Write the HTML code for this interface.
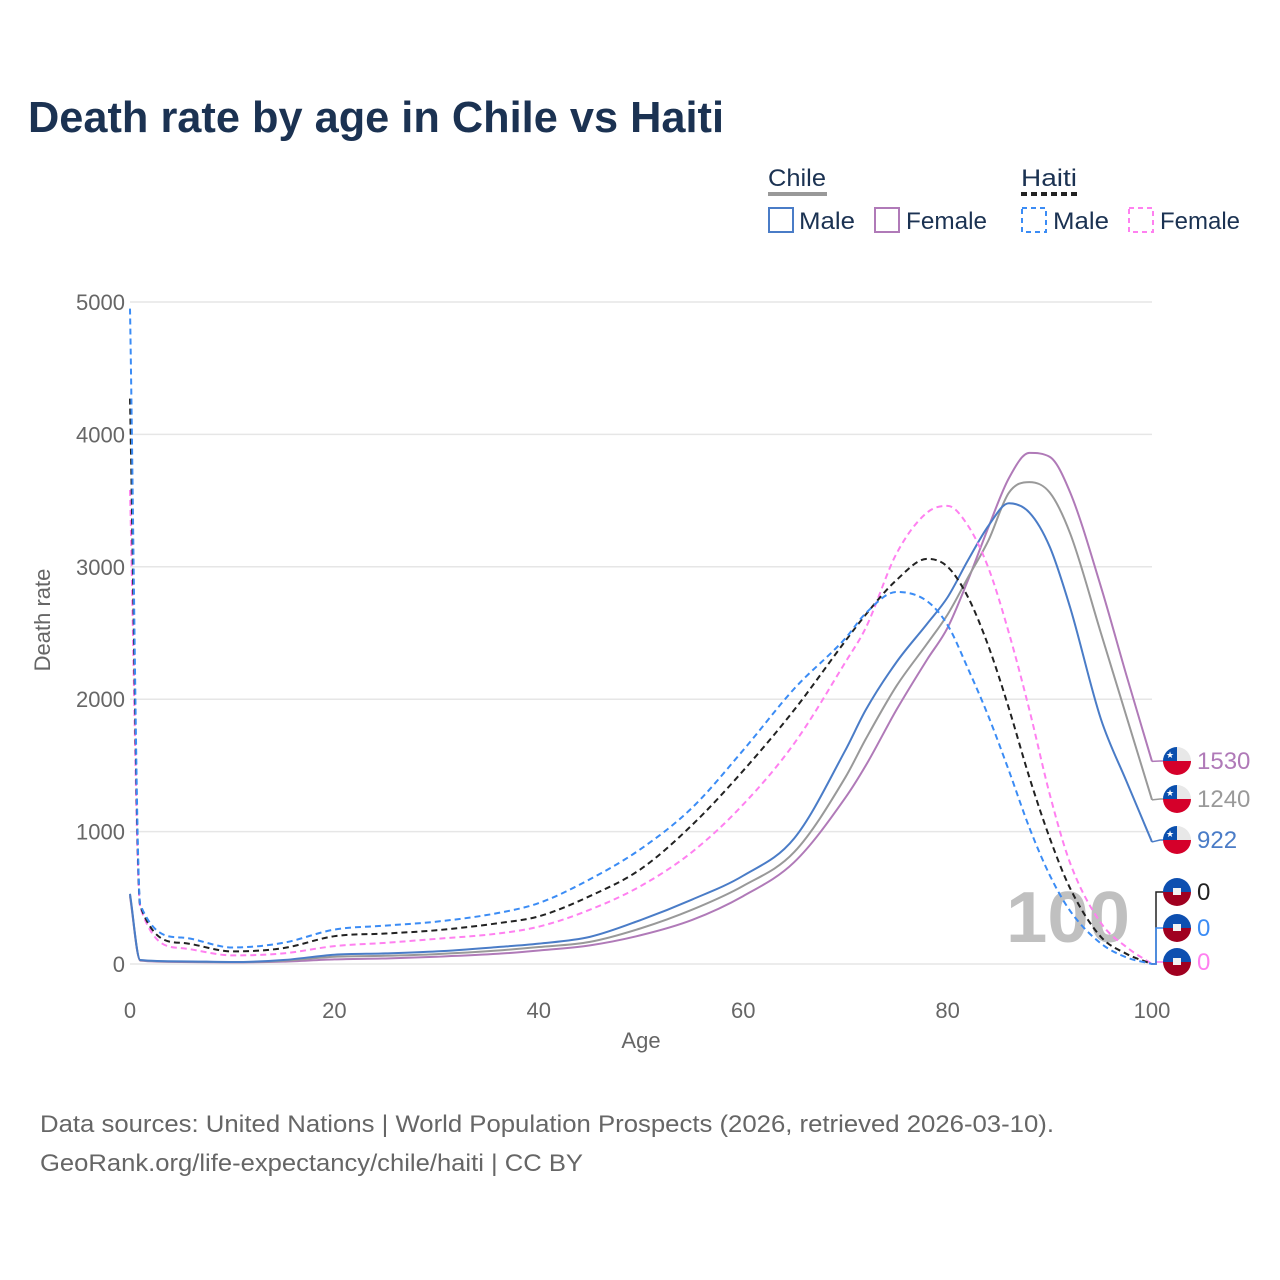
<!DOCTYPE html>
<html><head><meta charset="utf-8"><style>
html,body{margin:0;padding:0;background:#fff}
svg{display:block;font-family:"Liberation Sans",sans-serif}
</style></head><body>
<svg id="chart" width="1280" height="1280" viewBox="0 0 1280 1280">
<text x="28" y="132" font-size="44" font-weight="bold" fill="#1b3252" textLength="696" lengthAdjust="spacingAndGlyphs">Death rate by age in Chile vs Haiti</text>
<g font-size="24" fill="#1b3252">
<text x="768" y="186" textLength="58" lengthAdjust="spacingAndGlyphs">Chile</text>
<line x1="768" y1="194" x2="827" y2="194" stroke="#999" stroke-width="4"/>
<text x="1021" y="186" textLength="56" lengthAdjust="spacingAndGlyphs">Haiti</text>
<line x1="1021" y1="194" x2="1077" y2="194" stroke="#222" stroke-width="4" stroke-dasharray="6,4"/>
<g><rect x="769" y="208" width="24" height="24" fill="none" stroke="#4a7cc7" stroke-width="2"/><text x="799" y="229" textLength="56" lengthAdjust="spacingAndGlyphs">Male</text></g>
<g><rect x="875" y="208" width="24" height="24" fill="none" stroke="#b07ab8" stroke-width="2"/><text x="906" y="229" textLength="81" lengthAdjust="spacingAndGlyphs">Female</text></g>
<g><rect x="1022" y="208" width="24" height="24" fill="none" stroke="#3b8cf5" stroke-width="2" stroke-dasharray="5,4"/><text x="1053" y="229" textLength="56" lengthAdjust="spacingAndGlyphs">Male</text></g>
<g><rect x="1129" y="208" width="24" height="24" fill="none" stroke="#ff80f0" stroke-width="2" stroke-dasharray="5,4"/><text x="1160" y="229" textLength="80" lengthAdjust="spacingAndGlyphs">Female</text></g>
</g>
<g id="grid"></g>
<g id="yticks" font-size="22" fill="#666" text-anchor="end"></g>
<g id="xticks" font-size="22" fill="#666" text-anchor="middle"></g>
<text x="641" y="1048" font-size="22" fill="#666" text-anchor="middle">Age</text>
<text transform="translate(50,620) rotate(-90)" font-size="22" fill="#666" text-anchor="middle">Death rate</text>
<text x="1068" y="942" font-size="72" font-weight="bold" fill="#c0c0c0" text-anchor="middle" textLength="124" lengthAdjust="spacingAndGlyphs">100</text>
<g id="series"></g>
<g id="endlabels"></g>
<text x="40" y="1132" font-size="24" fill="#666" textLength="1014" lengthAdjust="spacingAndGlyphs">Data sources: United Nations | World Population Prospects (2026, retrieved 2026-03-10).</text>
<text x="40" y="1171" font-size="24" fill="#666" textLength="543" lengthAdjust="spacingAndGlyphs">GeoRank.org/life-expectancy/chile/haiti | CC BY</text>
</svg>
<script>
const ages = [0,1,5,10,15,20,25,30,36,40,45,50,55,60,65,70,72,75,78,80,82,84,86,88,90,92,95,97.5,100];
const haitiMale = [4950,450,200,125,160,260,290,320,385,460,640,870,1180,1615,2080,2460,2650,2810,2740,2560,2230,1870,1460,1030,670,400,155,50,0];
const haitiBoth = [4270,440,160,95,120,210,230,255,308,360,513,718,1050,1460,1920,2440,2640,2900,3060,3000,2770,2400,1930,1410,950,570,205,77,0];
const haitiFemale = [3580,430,120,65,80,135,160,190,230,282,410,590,846,1205,1667,2280,2540,3100,3410,3460,3310,2990,2500,1920,1280,760,310,128,0];
const chileMale = [530,30,20,15,30,70,80,95,128,154,205,333,487,667,950,1615,1920,2280,2570,2770,3050,3310,3480,3410,3150,2690,1850,1380,922];
const chileBoth = [520,28,18,14,25,55,62,75,102,128,167,270,410,590,846,1410,1700,2100,2420,2640,2920,3200,3560,3640,3560,3250,2500,1870,1240];
const chileFemale = [510,25,15,12,18,35,42,55,77,102,141,218,333,513,770,1256,1500,1920,2300,2540,2900,3300,3670,3860,3830,3560,2850,2180,1530];
const yTicks = [0,1000,2000,3000,4000,5000];
const xTicks = [0,20,40,60,80,100];
const endLabels = ["1530","1240","922","0","0","0"];

const NS="http://www.w3.org/2000/svg";
const X0=130,X1=1152,Y0=964,PX=0.1324;
const xs=a=>X0+(a-0)*(X1-X0)/100;
const ys=v=>Y0-v*PX;
function mk(t,attrs,parent){const e=document.createElementNS(NS,t);for(const k in attrs)e.setAttribute(k,attrs[k]);parent.appendChild(e);return e;}

const grid=document.getElementById('grid'),yt=document.getElementById('yticks'),xt=document.getElementById('xticks');
yTicks.forEach(v=>{
  const l=mk('line',{x1:X0,x2:X1,y1:ys(v),y2:ys(v),stroke:'#e6e6e6','stroke-width':1.5},grid);
  
  
  const t=mk('text',{x:125,y:ys(v)+8},yt);t.textContent=v;
  
  
});
xTicks.forEach(a=>{
  const t=mk('text',{x:xs(a),y:1018},xt);t.textContent=a;
  
  
});

function monotonePath(px,py){
  const n=px.length,d=[],m=[];
  for(let i=0;i<n-1;i++)d.push((py[i+1]-py[i])/(px[i+1]-px[i]));
  m[0]=d[0];m[n-1]=d[n-2];
  for(let i=1;i<n-1;i++){m[i]=(d[i-1]*d[i]<=0)?0:(d[i-1]+d[i])/2;}
  for(let i=0;i<n-1;i++){if(d[i]===0){m[i]=0;m[i+1]=0;continue;}const a=m[i]/d[i],b=m[i+1]/d[i],s=a*a+b*b;if(s>9){const t=3/Math.sqrt(s);m[i]=t*a*d[i];m[i+1]=t*b*d[i];}}
  let p='M'+px[0]+','+py[0];
  for(let i=0;i<n-1;i++){const h=(px[i+1]-px[i])/3;p+=' C'+(px[i]+h)+','+(py[i]+m[i]*h)+' '+(px[i+1]-h)+','+(py[i+1]-m[i+1]*h)+' '+px[i+1]+','+py[i+1];}
  return p;
}
const series=[
 {name:'chile-female',data:chileFemale,color:'#b07ab8',dash:null,ly:761,lab:0},
 {name:'chile-both',data:chileBoth,color:'#999999',dash:null,ly:799,lab:1},
 {name:'chile-male',data:chileMale,color:'#4a7cc7',dash:null,ly:840,lab:2},
 {name:'haiti-female',data:haitiFemale,color:'#ff80f0',dash:'6,4',ly:962,lab:5},
 {name:'haiti-both',data:haitiBoth,color:'#222222',dash:'6,4',ly:892,lab:3},
 {name:'haiti-male',data:haitiMale,color:'#3b8cf5',dash:'6,4',ly:928,lab:4}
];
const sg=document.getElementById('series');
series.forEach(s=>{
  const p=mk('path',{d:monotonePath(ages.map(xs),s.data.map(ys)),fill:'none',stroke:s.color,'stroke-width':2},sg);
  if(s.dash)p.setAttribute('stroke-dasharray',s.dash);
  
  
});

const eg=document.getElementById('endlabels');
const chileFlag=(g,cx,cy)=>{
  mk('clipPath',{id:'c'+cy},g).appendChild(document.createElementNS(NS,'circle'));
  const c=g.lastChild.firstChild;c.setAttribute('cx',cx);c.setAttribute('cy',cy);c.setAttribute('r',14);
  mk('rect',{x:cx-14,y:cy-14,width:28,height:14,fill:'#e8e8e8','clip-path':'url(#c'+cy+')'},g);
  mk('rect',{x:cx-14,y:cy-14,width:14,height:14,fill:'#0a4fae','clip-path':'url(#c'+cy+')'},g);
  mk('rect',{x:cx-14,y:cy,width:28,height:14,fill:'#d5002a','clip-path':'url(#c'+cy+')'},g);
  const st=mk('text',{x:cx-7,y:cy-3,'font-size':9,fill:'#fff','text-anchor':'middle'},g);st.textContent='★';
};
const haitiFlag=(g,cx,cy)=>{
  mk('clipPath',{id:'c'+cy},g).appendChild(document.createElementNS(NS,'circle'));
  const c=g.lastChild.firstChild;c.setAttribute('cx',cx);c.setAttribute('cy',cy);c.setAttribute('r',14);
  mk('rect',{x:cx-14,y:cy-14,width:28,height:14,fill:'#0d4fb0','clip-path':'url(#c'+cy+')'},g);
  mk('rect',{x:cx-14,y:cy,width:28,height:14,fill:'#a00020','clip-path':'url(#c'+cy+')'},g);
  mk('rect',{x:cx-4,y:cy-4,width:8,height:7,fill:'#f2f2f2'},g);
};
series.forEach((s,i)=>{
  const g=mk('g',{},eg);
  
  
  const endY=ys(s.data[s.data.length-1]),ly=s.ly;
  if(i<3){
    mk('path',{d:'M'+X1+','+endY+' L1160,'+ly+' L1166,'+ly,fill:'none',stroke:s.color,'stroke-width':1.5},g);
    chileFlag(g,1177,ly);
  }else{
    mk('path',{d:'M'+X1+','+endY+' L1156,'+endY+' L1156,'+ly+' L1166,'+ly,fill:'none',stroke:s.color,'stroke-width':1.5},g);
    haitiFlag(g,1177,ly);
  }
  const t=mk('text',{x:1197,y:ly+8,'font-size':24,fill:s.color},g);
  t.textContent=endLabels[s.lab];
});
</script>
</body></html>
